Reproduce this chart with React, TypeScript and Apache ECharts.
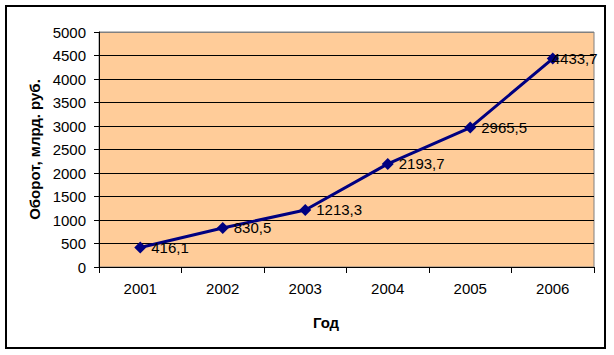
import React, { useEffect, useRef } from "react";
import * as echarts from "echarts";

const years = ["2001", "2002", "2003", "2004", "2005", "2006"];
const turnover = [416.1, 830.5, 1213.3, 2193.7, 2965.5, 4433.7];
const yMin = 0;
const yMax = 5000;
const yStep = 500;
const yAxisTitle = "Оборот, млрд. руб.";
const xAxisTitle = "Год";

const FONT = "Arial, 'Liberation Sans', sans-serif";

export default function App() {
  const ref = useRef<HTMLDivElement>(null);
  useEffect(() => {
    if (!ref.current) return;
    const chart = echarts.init(ref.current, null, { renderer: "svg" });
    const nLines = (yMax - yMin) / yStep + 1;
    const splitColors = Array.from({ length: nLines }, (_, i) =>
      i === nLines - 1 ? "#808080" : "#000000"
    );
    chart.setOption({
      animation: false,
      backgroundColor: "#ffffff",
      grid: {
        left: 99,
        top: 32,
        width: 495,
        height: 235,
        show: true,
        backgroundColor: "#FFCC99",
        borderColor: "#808080",
        borderWidth: 1,
      },
      xAxis: {
        type: "category",
        data: years,
        boundaryGap: true,
        axisLine: { lineStyle: { color: "#000", width: 1 } },
        axisTick: { show: true, length: 6, lineStyle: { color: "#000" } },
        axisLabel: { color: "#000", fontFamily: FONT, fontSize: 15, margin: 14 },
        splitLine: { show: false },
      },
      yAxis: {
        type: "value",
        min: yMin,
        max: yMax,
        interval: yStep,
        name: yAxisTitle,
        nameLocation: "middle",
        nameRotate: 90,
        nameGap: 53,
        nameTextStyle: { color: "#000", fontFamily: FONT, fontSize: 15, fontWeight: "bold" },
        axisLine: { show: true, lineStyle: { color: "#000", width: 1 } },
        axisTick: { show: true, length: 5, lineStyle: { color: "#000" } },
        axisLabel: {
          color: "#000",
          fontFamily: FONT,
          fontSize: 15,
          margin: 13,
          formatter: (v: number) => String(v),
        },
        splitLine: { show: true, lineStyle: { color: splitColors, width: 1 } },
      },
      series: [
        {
          type: "line",
          data: turnover.map((v, i) =>
            i === turnover.length - 1
              ? { value: v, label: { offset: [-12, 0] } }
              : v
          ),
          symbol: "diamond",
          symbolSize: 12,
          lineStyle: { color: "#000080", width: 3 },
          itemStyle: { color: "#000080" },
          label: {
            show: true,
            position: "right",
            distance: 5,
            color: "#000",
            fontFamily: FONT,
            fontSize: 15,
            formatter: (p: any) => String(p.value).replace(".", ","),
          },
        },
      ],
      graphic: [
        {
          type: "rect",
          shape: { x: 6, y: 6, width: 599, height: 342 },
          style: { fill: "none", stroke: "#000", lineWidth: 2 },
          silent: true,
          z: 100,
        },
        {
          type: "text",
          x: 326,
          y: 322,
          style: {
            text: xAxisTitle,
            fill: "#000",
            font: `bold 15px ${FONT}`,
            textAlign: "center",
            textVerticalAlign: "middle",
          },
        },
      ],
    });
    return () => chart.dispose();
  }, []);
  return (
    <div
      ref={ref}
      style={{ position: "absolute", left: 0, top: 0, width: 614, height: 355 }}
    />
  );
}
